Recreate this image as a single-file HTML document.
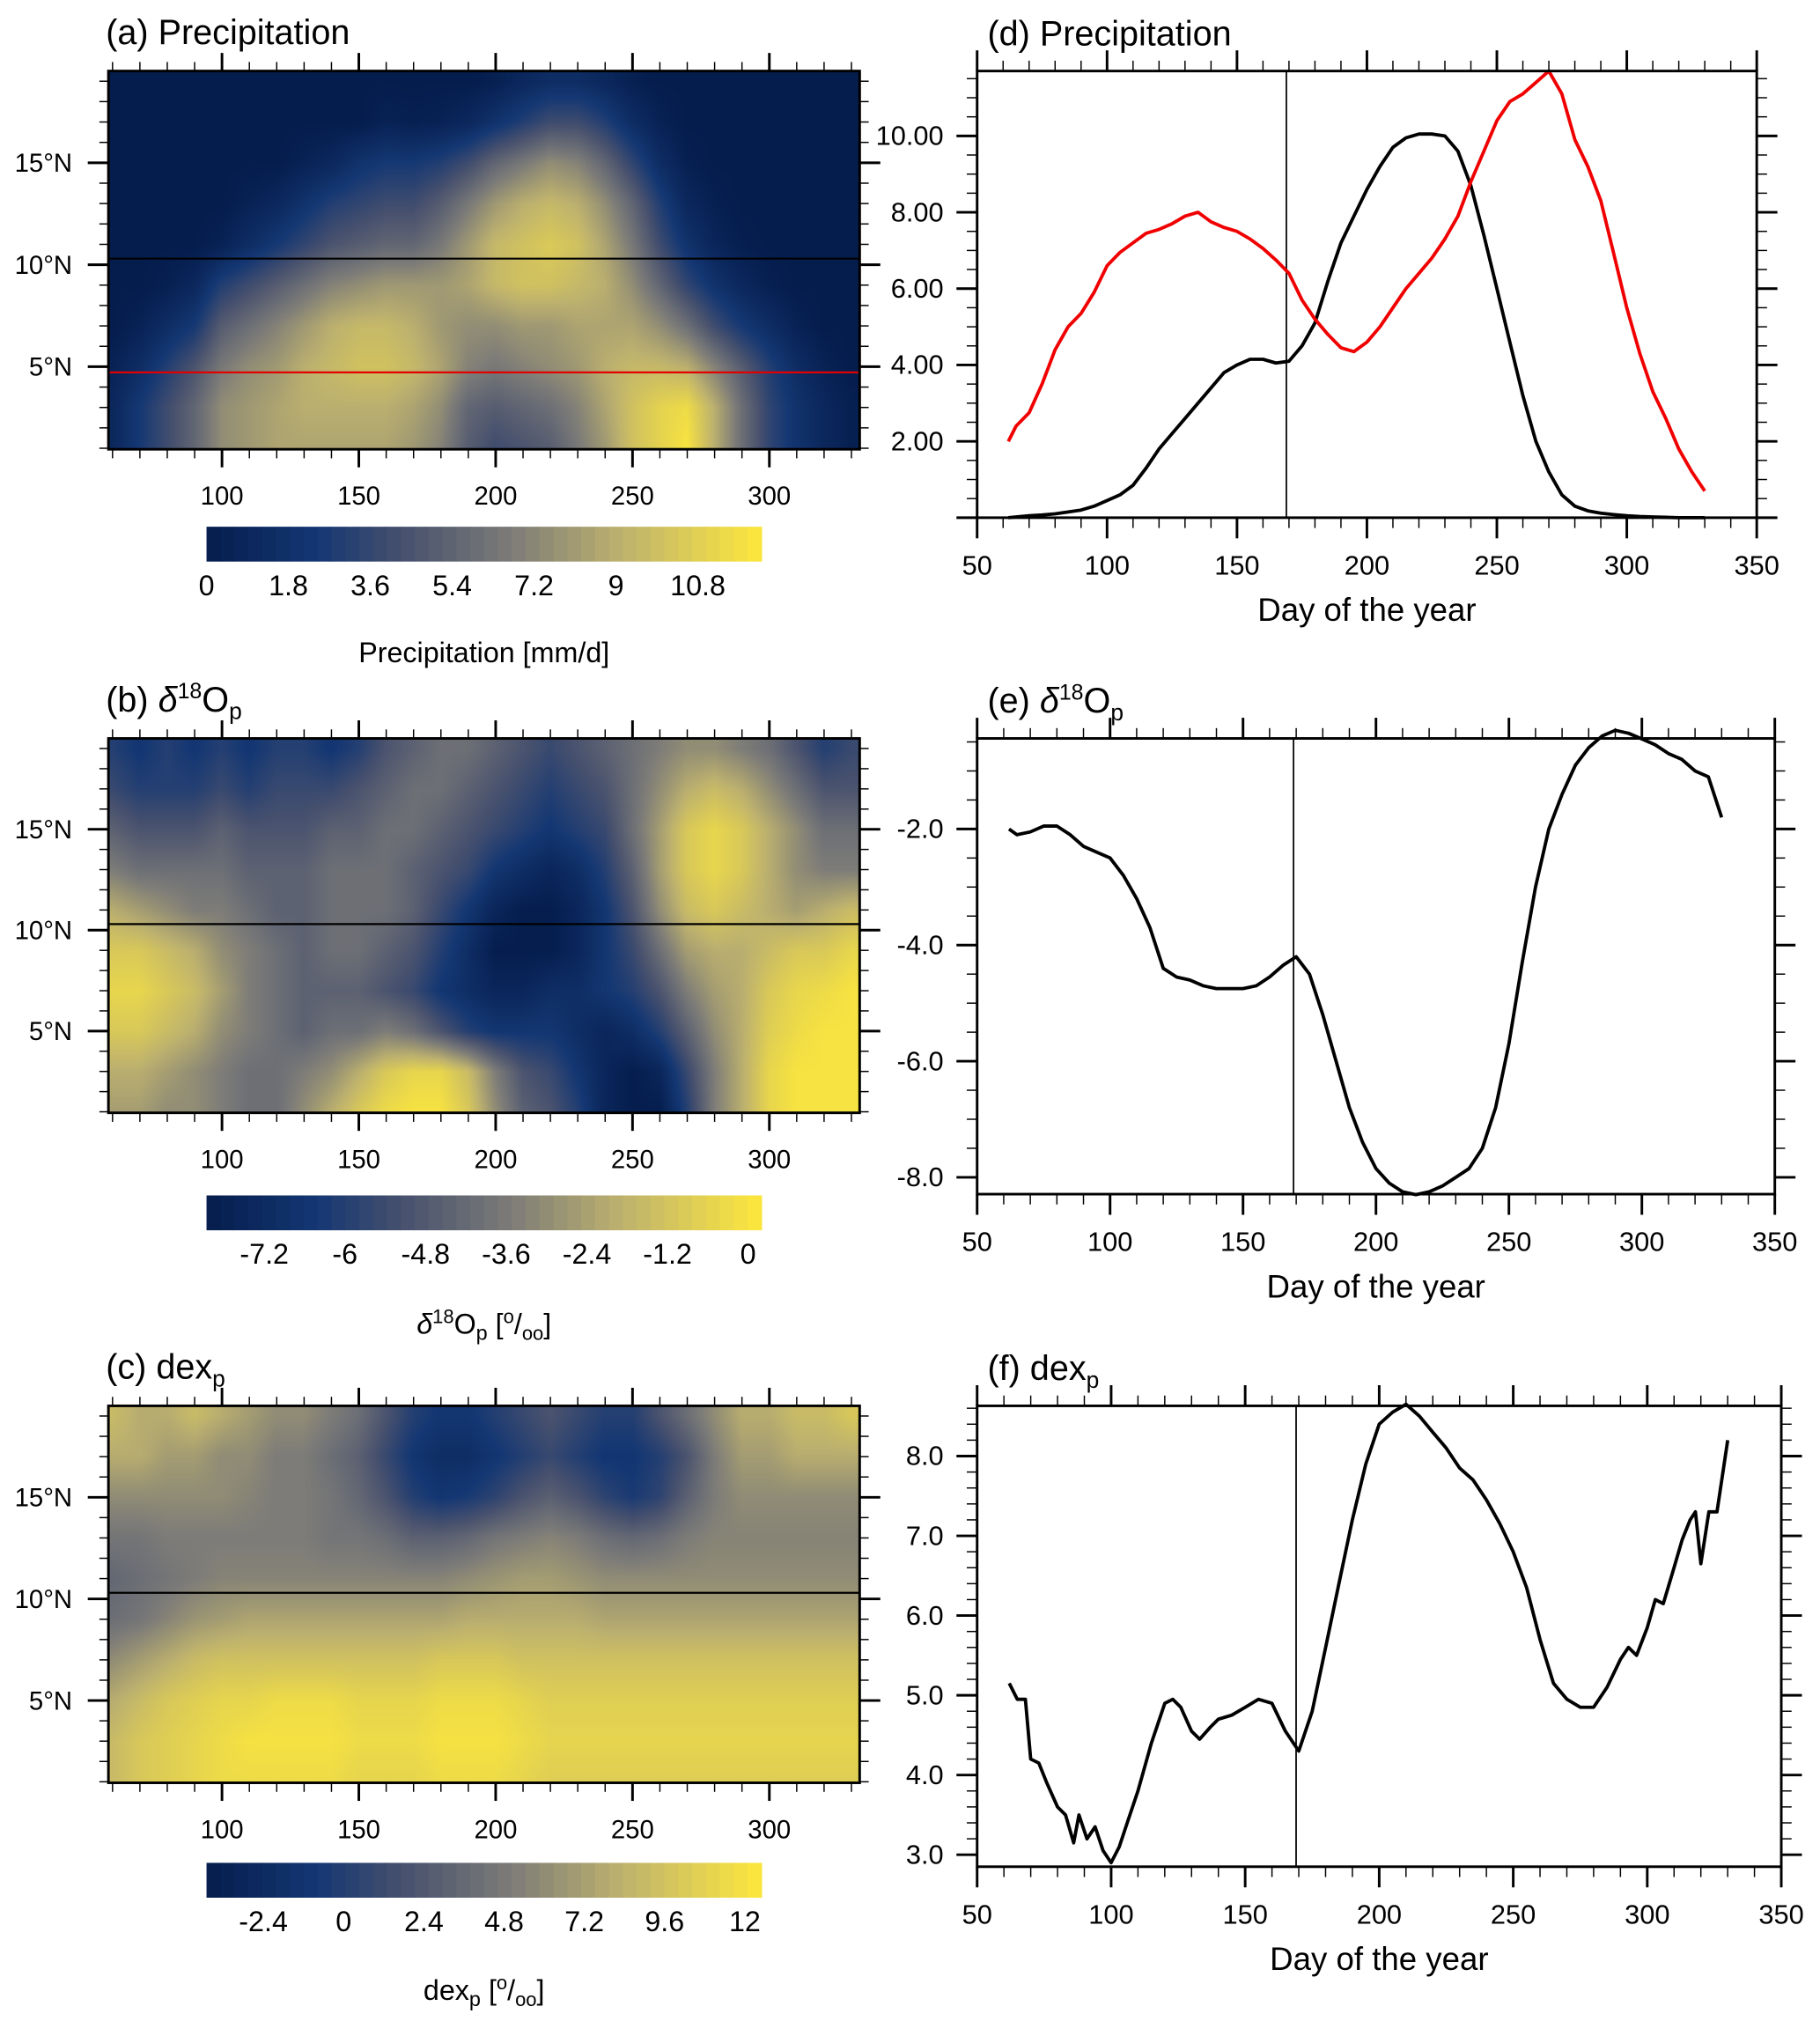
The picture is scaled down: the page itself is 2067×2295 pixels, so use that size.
<!DOCTYPE html>
<html><head><meta charset="utf-8">
<style>
html,body{margin:0;padding:0;background:#fff;}
#wrap{position:relative;width:2067px;height:2295px;overflow:hidden;}
canvas,svg{position:absolute;left:0;top:0;}
text{font-family:"Liberation Sans",sans-serif;fill:#000;}
</style></head>
<body>
<div id="wrap">
<canvas id="cv" width="2067" height="2295"></canvas>
<svg id="sv" width="2067" height="2295" viewBox="0 0 1410 1565.5"></svg>
</div>
<script>
// ---- heatmap data (rows: lat 19,17,...,1 ; columns: day 60..330 step 10)
const gridDays = [60,70,80,90,100,110,120,130,140,150,160,170,180,190,200,210,220,230,240,250,260,270,280,290,300,310,320,330];
const gridLats = [19,17,15,13,11,9,7,5,3,1];
const precipGrid = [
[0,0,0,0,0,0,0,0,0,0,0,0,0,0,0.3,1,1.5,1.5,1,0.3,0,0,0,0,0,0,0,0],
[0,0,0,0,0,0,0,0,0,0,0.5,0.3,0.5,1,2,3,4,4,3,1.5,0.5,0,0,0,0,0,0,0],
[0,0,0,0,0,0,0,0.5,1,2,2.5,2.5,3,4,5.5,6.5,7.5,7,5.5,3.5,1.5,0.3,0,0,0,0,0,0],
[0,0,0,0,0,0.5,1,2,3,3.5,4,4,5,6.5,8,9,9.5,9,7.5,5.5,3,1,0.3,0,0,0,0,0],
[0,0,0,0,0.5,1.5,2.5,3.5,4.5,5,5.5,5.5,6.5,8,9.5,10,10.5,10,8.5,6.5,4,2,0.8,0.2,0,0,0,0],
[0,0,0.3,1,3,4,5,6,7,7.5,8,8,8,8.5,9.5,10,10,9.5,9,7.5,5.5,3.5,2,1,0.3,0,0,0],
[0,0.5,1.5,2.5,5,6,7,8,9,9.5,9.5,9,8,7.5,7.5,8,8,8.5,8.5,8.5,7.5,6,4,2.5,1.5,0.5,0,0],
[0.5,1.5,3,4.5,6.5,7.5,8,9,9.5,10,10,9.5,8.5,7,6.5,7,7.5,8,9,9.5,9.5,9,7,5,3,1.5,0.5,0],
[1,2.5,4,5.5,7.5,8,8.5,9,9,9,9,8.5,7.5,5.5,5,5.5,6,7,8.5,10,11,11.5,9,6,3.5,2,1,0.3],
[1,2.5,4,5.5,7.5,8,8.5,8.5,8.5,8.5,8.5,8,7,5,4,4.5,5,6.5,8,10,11,12,9,6,3.5,2,1,0.3]];
const d18Grid = [
[-6,-6.5,-6,-6.5,-6,-6.5,-6,-6,-6.5,-6,-5,-4.5,-4,-4,-4.5,-5,-5.5,-5,-4.5,-4,-3.5,-3,-3,-3.5,-4,-5,-6,-5.5],
[-5.5,-6,-6,-6,-5.5,-6,-5.5,-5.5,-5.5,-5,-4.5,-4,-4,-4.5,-5,-5.5,-6,-5.5,-5,-4,-3,-2,-1.5,-2,-3,-4,-5,-5],
[-4.5,-5,-5,-5,-4.5,-5,-5,-5,-4.5,-4.5,-4,-4,-4.5,-5,-5.5,-6,-6.5,-6,-5.5,-4,-2.5,-1,-0.5,-1,-2,-3,-4,-4],
[-3.5,-4,-4,-4,-4,-4.5,-4.5,-4.5,-4,-4,-4,-4.5,-5,-5.5,-6.5,-7,-7.5,-7,-6,-4.5,-2.5,-1,-0.5,-1,-2,-3,-3.5,-3.5],
[-2,-2.5,-3,-3.5,-3.5,-4,-4.5,-4.5,-4,-4,-4,-4.5,-5.5,-6.5,-7.5,-8,-8,-7.5,-6.5,-5,-3,-1.5,-1,-1.5,-2,-2.5,-2,-1.5],
[-1,-1,-1.5,-2,-3,-3.5,-4,-4.5,-4,-4,-4.5,-5,-6,-7,-8,-8,-8,-7.5,-6.5,-5.5,-4,-2.5,-2,-2,-1.5,-1,-1,-0.5],
[-0.5,-0.5,-1,-1.5,-2.5,-3.5,-4,-4.5,-4.5,-4.5,-5,-5.5,-6.5,-7,-7.5,-7.5,-7,-7,-6.5,-6,-5,-3.5,-2.5,-2,-1,-0.5,-0.3,0],
[-1,-1,-1.5,-2,-3,-3.5,-4,-4.5,-4,-4,-3.5,-4,-5,-6,-6.5,-6.5,-6.5,-7,-7.5,-7,-6,-4.5,-3,-2,-0.8,-0.3,0,0],
[-2,-2,-2.5,-3,-3.5,-4,-4,-3.5,-3,-2,-1,-0.5,-0.5,-1.5,-3.5,-5,-5.5,-6.5,-7.5,-8,-7.5,-5.5,-3.5,-2,-0.5,0,0,0],
[-2.5,-2.5,-3,-3,-3.5,-4,-4,-3,-2,-1,-0.3,0,0,-1,-3,-4.5,-5,-6,-7.5,-8,-8,-6,-3.5,-2,-0.5,0,0,0]];
const dexGrid = [
[9,8,8,9,8,7,6,6,5,4,2,0,-1,-1,0,1,2,1,0,0,2,4,6,8,8,9,9,10],
[8,8,7,7,6,6,5,5,4,3,1,-1,-2,-2,-1,0,1,0,-1,-1,0,2,5,7,7,8,8,8],
[6,6,6,6,6,5.5,5,5,4.5,3.5,2,0,-1,-0.5,0.5,2,3,2,0.5,-0.5,0.5,3,5,6,6,6,6,6],
[4.5,4.5,5,5,5,5,5,5,4.5,4.5,4,3,3,3.5,4.5,5,5.5,5,4,3.5,4,5,5.5,5.5,5.5,5.5,5.5,5.5],
[3.5,4,4.5,5,5.5,5.5,5.5,5.5,5.5,5.5,5.5,5.5,5.5,6,6.5,7,7,6.5,6,6,6,6,6,6,6,6,6,6],
[4,4.5,5.5,6.5,7,7.5,7.5,7.5,7.5,7.5,7.5,7.5,7.5,8,8,8,8,8,7.5,7.5,7.5,7.5,7.5,7.5,7.5,7.5,7.5,7.5],
[6,7,8,9,9.5,9.5,9.5,9.5,9.5,9.5,9.5,9.5,10,10,10,9.5,9.5,9.5,9.5,9.5,9.5,9.5,9.5,9.5,9.5,9.5,9.5,9.5],
[8,9,10,10.5,11,11,11.5,11.5,11.5,11,11,11,11.5,11.5,11.5,11,10.5,10.5,10.5,10.5,10.5,10.5,10.5,10.5,10.5,10.5,10.5,10.5],
[9,10,10.5,11,11.5,12,12,12,12,11.5,11.5,11.5,12,12,12,11.5,11,11,11,11,11,11,11,11,11,11,11,11],
[9,10,10.5,11,11.5,11.5,11.5,11.5,11.5,11,11,11,11.5,11.5,11.5,11,10.5,10.5,10.5,10.5,10.5,10.5,10.5,10.5,10.5,10.5,10.5,10.5]];

// ---- line data
const dDays = [62,65,70,75,80,85,90,95,100,105,110,115,120,125,130,135,140,145,150,155,160,165,170,175,180,185,190,195,200,205,210,215,220,225,230,235,240,245,250,255,260,265,270,275,280,285,290,295,300,305,310,315,320,325,330];
const precipNorth = [0,0.02,0.05,0.07,0.1,0.15,0.2,0.3,0.45,0.6,0.85,1.3,1.8,2.2,2.6,3.0,3.4,3.8,4.0,4.15,4.15,4.05,4.1,4.5,5.1,6.2,7.2,7.9,8.6,9.2,9.7,9.95,10.05,10.05,10.0,9.6,8.7,7.4,6.0,4.6,3.2,2.0,1.2,0.6,0.3,0.18,0.12,0.08,0.05,0.03,0.02,0.01,0,0,0];
const precipSouth = [2.0,2.4,2.75,3.5,4.4,5.0,5.35,5.9,6.6,6.95,7.2,7.45,7.55,7.7,7.9,8.0,7.75,7.6,7.5,7.3,7.05,6.75,6.4,5.7,5.2,4.8,4.45,4.35,4.6,5.0,5.5,6.0,6.4,6.8,7.3,7.9,8.8,9.6,10.4,10.9,11.1,11.4,11.7,11.1,9.9,9.2,8.3,6.9,5.5,4.3,3.3,2.6,1.8,1.2,0.7];
const eDays = [62,65,70,75,80,85,90,95,100,105,110,115,120,125,130,135,140,145,150,155,160,165,170,175,180,185,190,195,200,205,210,215,220,225,230,235,240,245,250,255,260,265,270,275,280,285,290,295,300,305,310,315,320,325,330];
const d18Line = [-2.0,-2.1,-2.05,-1.95,-1.95,-2.1,-2.3,-2.4,-2.5,-2.8,-3.2,-3.7,-4.4,-4.55,-4.6,-4.7,-4.75,-4.75,-4.75,-4.7,-4.55,-4.35,-4.2,-4.5,-5.2,-6.0,-6.8,-7.4,-7.85,-8.1,-8.25,-8.3,-8.25,-8.15,-8.0,-7.85,-7.5,-6.8,-5.7,-4.3,-3.0,-2.0,-1.4,-0.9,-0.6,-0.4,-0.3,-0.35,-0.45,-0.55,-0.7,-0.8,-1.0,-1.1,-1.8];
const fDays = [62,65,68,70,73,76,80,83,86,88,91,94,97,100,103,106,110,115,120,123,126,130,133,137,140,145,150,155,160,165,170,175,180,185,190,195,200,205,210,215,220,225,230,235,240,245,250,255,260,265,270,275,280,285,290,293,296,300,303,306,310,313,316,318,320,323,326,330];
const dexLine = [5.15,4.95,4.95,4.2,4.15,3.9,3.6,3.5,3.15,3.5,3.2,3.35,3.05,2.9,3.1,3.4,3.8,4.4,4.9,4.95,4.85,4.55,4.45,4.6,4.7,4.75,4.85,4.95,4.9,4.55,4.3,4.8,5.6,6.4,7.2,7.9,8.4,8.55,8.65,8.5,8.3,8.1,7.85,7.7,7.45,7.15,6.8,6.35,5.7,5.15,4.95,4.85,4.85,5.1,5.45,5.6,5.5,5.85,6.2,6.15,6.6,6.95,7.2,7.3,6.65,7.3,7.3,8.2];
const markerDay = [169];
const cbA = ["0","1.8","3.6","5.4","7.2","9","10.8"];
const cbAv = [0,1.8,3.6,5.4,7.2,9,10.8];
const cbB = ["-7.2","-6","-4.8","-3.6","-2.4","-1.2","0"];
const cbBv = [-7.2,-6,-4.8,-3.6,-2.4,-1.2,0];
const cbC = ["-2.4","0","2.4","4.8","7.2","9.6","12"];
const cbCv = [-2.4,0,2.4,4.8,7.2,9.6,12];

const S = 2067/1410;
const NS='http://www.w3.org/2000/svg';
const svg=document.getElementById('sv');
function el(tag,attrs,parent){const e=document.createElementNS(NS,tag);for(const k in attrs)e.setAttribute(k,attrs[k]);(parent||svg).appendChild(e);return e;}
function txt(x,y,s,size,anchor,parent){const t=el('text',{x:x,y:y,'font-size':size,'text-anchor':anchor||'start'},parent);t.textContent=s;return t;}

const stops=[[0,[5,29,77]],[0.2,[20,55,115]],[0.35,[70,80,110]],[0.55,[125,124,120]],[0.75,[190,178,110]],[1,[253,232,60]]];
function cmap(t){t=Math.max(0,Math.min(1,t));for(let i=1;i<stops.length;i++){if(t<=stops[i][0]){const a=stops[i-1],b=stops[i];const f=(t-a[0])/(b[0]-a[0]);return [0,1,2].map(k=>Math.round(a[1][k]+f*(b[1][k]-a[1][k])));}}return stops[stops.length-1][1];}

const ctx=document.getElementById('cv').getContext('2d');
function heat(P,grid,vmin,vmax){
  const x0=Math.round(P.L*S),x1=Math.round(P.R*S),y0=Math.round(P.T*S),y1=Math.round(P.B*S);
  const w=x1-x0,h=y1-y0;const img=ctx.createImageData(w,h);
  for(let py=0;py<h;py++){
    const lat=P.lat1-(py+0.5)/h*(P.lat1-P.lat0);
    let rf=(19-lat)/2;rf=Math.max(0,Math.min(gridLats.length-1,rf));
    const r0=Math.floor(rf),r1=Math.min(r0+1,gridLats.length-1),fr=rf-r0;
    for(let px=0;px<w;px++){
      const day=P.d0+(px+0.5)/w*(P.d1-P.d0);
      let cf=(day-60)/10;cf=Math.max(0,Math.min(gridDays.length-1,cf));
      const c0=Math.floor(cf),c1=Math.min(c0+1,gridDays.length-1),fc=cf-c0;
      const v=(grid[r0][c0]*(1-fc)+grid[r0][c1]*fc)*(1-fr)+(grid[r1][c0]*(1-fc)+grid[r1][c1]*fc)*fr;
      const c=cmap((v-vmin)/(vmax-vmin));const i=(py*w+px)*4;
      img.data[i]=c[0];img.data[i+1]=c[1];img.data[i+2]=c[2];img.data[i+3]=255;
    }
  }
  ctx.putImageData(img,x0,y0);
}

function mapPanel(P,grid,vmin,vmax,name,title,titleSub,hlines,cb,cbv,cbTitle){
  heat(P,grid,vmin,vmax);
  const g=el('g',{});
  const X=d=>P.L+(d-P.d0)/(P.d1-P.d0)*(P.R-P.L);
  const Y=l=>P.B-(l-P.lat0)/(P.lat1-P.lat0)*(P.B-P.T);
  hlines.forEach(h=>{const ln=el('line',{x1:P.L,x2:P.R,y1:Y(h.lat),y2:Y(h.lat),stroke:h.c,'stroke-width':1.5},g);});
  el('rect',{x:P.L,y:P.T,width:P.R-P.L,height:P.B-P.T,fill:'none',stroke:'#000','stroke-width':2},g);
  for(let d=60;d<=330;d+=10){const x=X(d),maj=d%50==0;
    el('line',{x1:x,x2:x,y1:P.B,y2:P.B+(maj?14:7),stroke:'#000','stroke-width':maj?2:1},g);
    el('line',{x1:x,x2:x,y1:P.T,y2:P.T-(maj?14:7),stroke:'#000','stroke-width':maj?2:1},g);
    if(maj){const t=txt(x,P.B+43,String(d),20,'middle',g);}}
  for(let l=1;l<=19;l++){const y=Y(l),maj=l%5==0;
    el('line',{x1:P.L,x2:P.L-(maj?16:7),y1:y,y2:y,stroke:'#000','stroke-width':maj?2:1},g);
    el('line',{x1:P.R,x2:P.R+(maj?16:7),y1:y,y2:y,stroke:'#000','stroke-width':maj?2:1},g);
    if(maj){const t=txt(P.L-28,y+7,l+'°N',20,'end',g);}}
  const tt=txt(82,P.T-21,title,27,'start',g);
  if(titleSub){tt.innerHTML=titleSub;}
  const cg=el('g',{},g);
  const cx0=160,cx1=590,cy=P.cbY,n=40;
  for(let i=0;i<n;i++){const c=cmap((i+0.5)/n);el('rect',{x:cx0+i*(cx1-cx0)/n,y:cy,width:(cx1-cx0)/n+0.4,height:27,fill:'rgb('+c.join(',')+')'},cg);}
  cb.forEach((s,i)=>{const x=cx0+(cbv[i]-vmin)/(vmax-vmin)*(cx1-cx0);const t=txt(x,cy+53,s,22,'middle',cg);});
  const ct=txt(375,P.cbTitleY,'',22,'middle',g);ct.innerHTML=cbTitle;
}

mapPanel({L:84,R:666,T:55,B:348,d0:58.5,d1:333,lat0:0.95,lat1:19.5,cbY:408,cbTitleY:513},precipGrid,0,12.2,'panel-a-precip-map','(a) Precipitation',null,
  [{lat:10.3,c:'#000',n:'lat-line-10n'},{lat:4.72,c:'#e00000',n:'lat-line-5n'}],cbA,cbAv,'Precipitation [mm/d]');
mapPanel({L:84,R:666,T:572,B:862,d0:58.5,d1:333,lat0:0.95,lat1:19.5,cbY:926,cbTitleY:1033},d18Grid,-8.06,0.2,'panel-b-d18o-map','',
  '(b) <tspan font-style="italic">δ</tspan><tspan dy="-10" font-size="17">18</tspan><tspan dy="10">O</tspan><tspan dy="6" font-size="18">p</tspan>',
  [{lat:10.3,c:'#000',n:'lat-line-10n'}],cbB,cbBv,'<tspan font-style="italic">δ</tspan><tspan dy="-8" font-size="15">18</tspan><tspan dy="8">O</tspan><tspan dy="5" font-size="16">p</tspan><tspan dy="-5"> [</tspan><tspan dy="-8" font-size="15">o</tspan><tspan dy="8">/</tspan><tspan dy="5" font-size="15">oo</tspan><tspan dy="-5">]</tspan>');
mapPanel({L:84,R:666,T:1089,B:1381,d0:58.5,d1:333,lat0:0.95,lat1:19.5,cbY:1443,cbTitleY:1549},dexGrid,-4.1,12.5,'panel-c-dex-map','',
  '(c) dex<tspan dy="6" font-size="18">p</tspan>',
  [{lat:10.3,c:'#000',n:'lat-line-10n'}],cbC,cbCv,'dex<tspan dy="5" font-size="16">p</tspan><tspan dy="-5"> [</tspan><tspan dy="-8" font-size="15">o</tspan><tspan dy="8">/</tspan><tspan dy="5" font-size="15">oo</tspan><tspan dy="-5">]</tspan>');

function linePanel(P,series,name,titleHTML){
  const g=el('g',{});
  const X=d=>P.L+(d-50)/300*(P.R-P.L);
  const Y=v=>P.B-(v-P.y0)/(P.y1-P.y0)*(P.B-P.T);
  const vl=el('line',{x1:X(markerDay[0]),x2:X(markerDay[0]),y1:P.T,y2:P.B,stroke:'#000','stroke-width':1.2},g);
  
  series.forEach(s=>{const pts=s.x.map((d,i)=>X(d).toFixed(1)+','+Y(s.y[i]).toFixed(1)).join(' ');
    const pl=el('polyline',{points:pts,fill:'none',stroke:s.c,'stroke-width':2.6,'stroke-linejoin':'round'},g);
    });
  el('rect',{x:P.L,y:P.T,width:P.R-P.L,height:P.B-P.T,fill:'none',stroke:'#000','stroke-width':2},g);
  for(let d=50;d<=350;d+=10){const x=X(d),maj=d%50==0;
    el('line',{x1:x,x2:x,y1:P.B,y2:P.B+(maj?16:8),stroke:'#000','stroke-width':maj?2:1},g);
    el('line',{x1:x,x2:x,y1:P.T,y2:P.T-(maj?16:8),stroke:'#000','stroke-width':maj?2:1},g);
    if(maj){const t=txt(x,P.B+44,String(d),21,'middle',g);}}
  const n=Math.round((P.y1-P.minStart)/P.minor);
  for(let i=0;i<=n+1;i++){const v=P.minStart+i*P.minor;if(v<P.y0-1e-6||v>P.y1+1e-6)continue;const y=Y(v);
    const maj=Math.abs(v/P.major-Math.round(v/P.major))<1e-6;
    el('line',{x1:P.L,x2:P.L-(maj?16:8),y1:y,y2:y,stroke:'#000','stroke-width':maj?2:1},g);
    el('line',{x1:P.R,x2:P.R+(maj?16:8),y1:y,y2:y,stroke:'#000','stroke-width':maj?2:1},g);
    if(maj&&v>P.y0+0.1){const t=txt(P.L-26,y+7,v.toFixed(P.dec),21,'end',g);}}
  const tt=txt(765,P.T-20,'',27,'start',g);tt.innerHTML=titleHTML;
  const xt=txt((P.L+P.R)/2,P.B+80,'Day of the year',25,'middle',g);
}
linePanel({L:757,R:1361,T:55,B:401,y0:0,y1:11.7,major:2,minor:0.5,minStart:0,dec:2},
  [{x:dDays,y:precipNorth,c:'#000',n:'precip-north-line'},{x:dDays,y:precipSouth,c:'#f00000',n:'precip-south-line'}],'panel-d-precip-series','(d) Precipitation');
linePanel({L:757,R:1375,T:572,B:925,y0:-8.29,y1:-0.44,major:2,minor:0.5,minStart:-8.5,dec:1},
  [{x:eDays,y:d18Line,c:'#000',n:'d18o-line'}],'panel-e-d18o-series','(e) <tspan font-style="italic">δ</tspan><tspan dy="-10" font-size="17">18</tspan><tspan dy="10">O</tspan><tspan dy="6" font-size="18">p</tspan>');
linePanel({L:757,R:1380,T:1089,B:1446,y0:2.85,y1:8.63,major:1,minor:0.2,minStart:2.8,dec:1},
  [{x:fDays,y:dexLine,c:'#000',n:'dex-line'}],'panel-f-dex-series','(f) dex<tspan dy="6" font-size="18">p</tspan>');
</script>
</body></html>
